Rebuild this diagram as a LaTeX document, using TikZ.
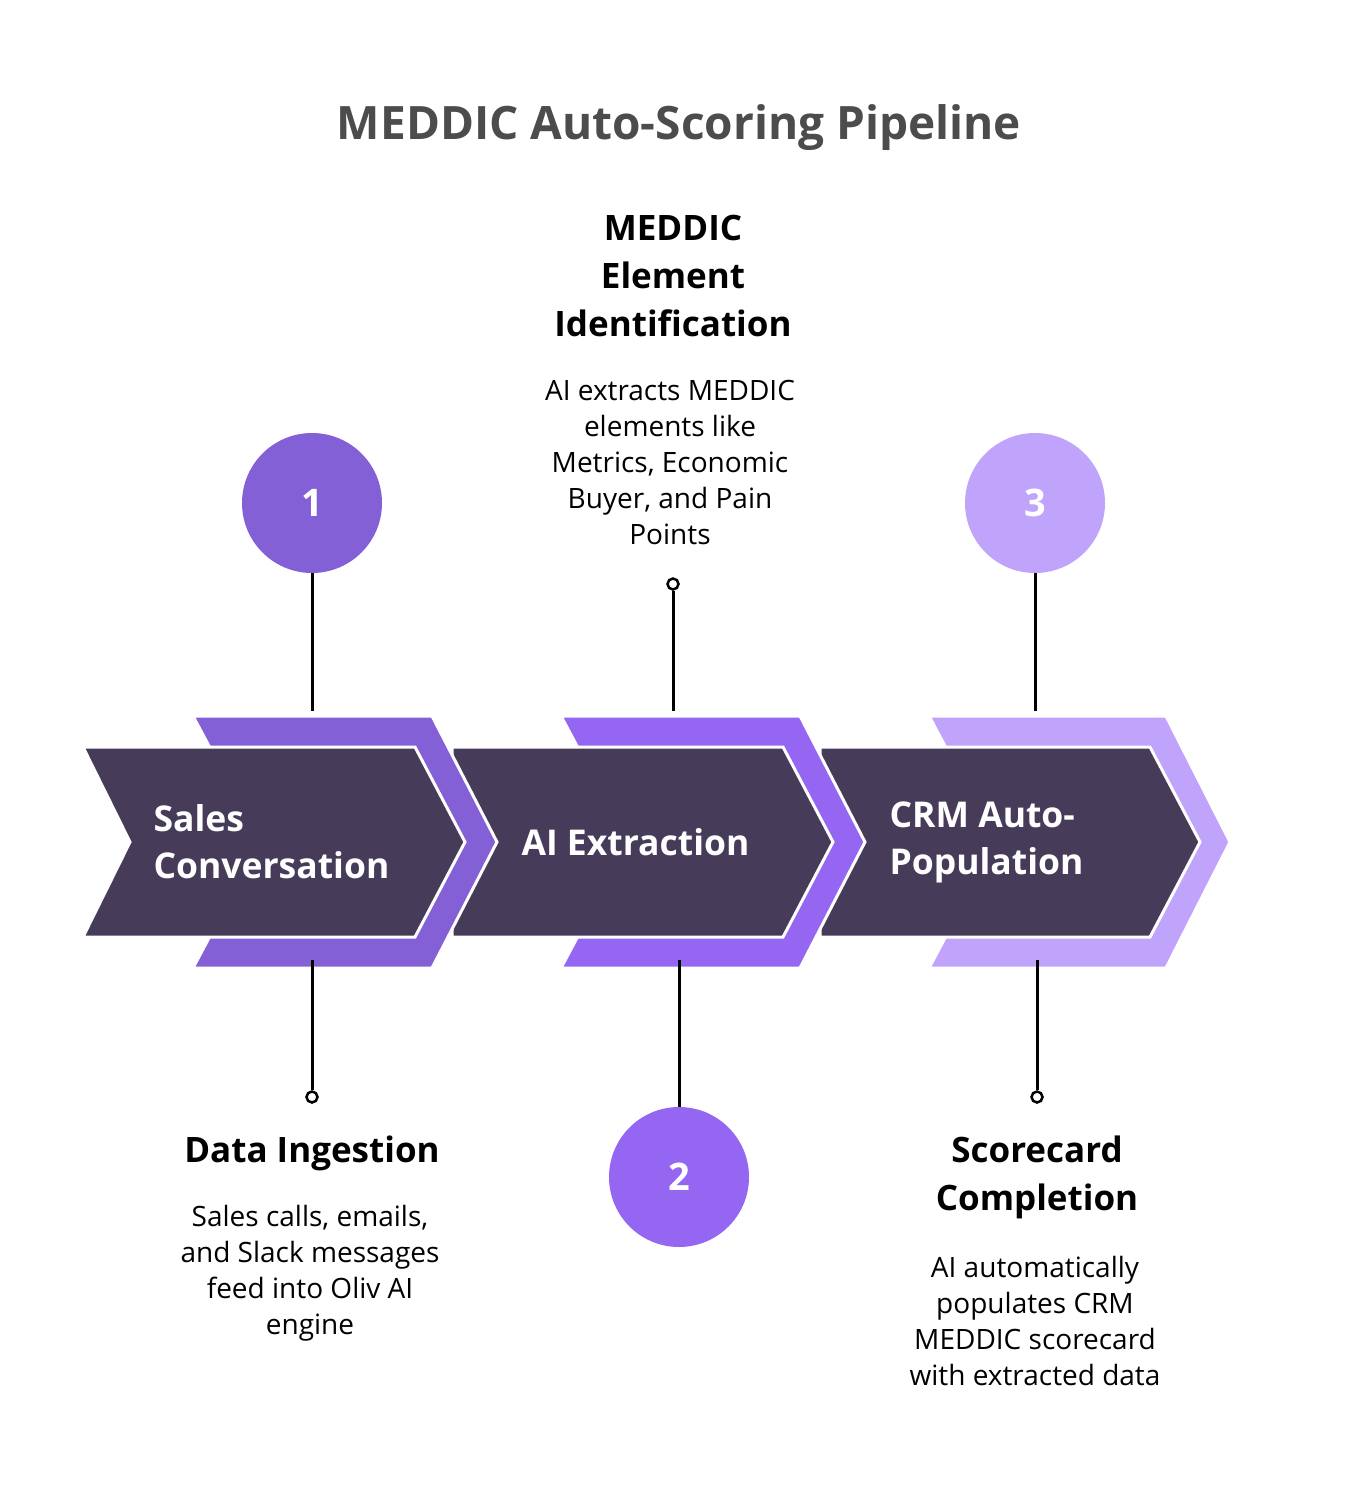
\documentclass[tikz,border=0pt]{standalone}
\usepackage{fontspec}
\setmainfont{Open Sans}
\begin{document}
\begin{tikzpicture}[x=1pt,y=-1pt,
  dark/.style={fill=dk,draw=white,line width=3pt,line join=miter},
  band/.style={draw=white,line width=3pt},
  num/.style={circle,minimum size=140pt,inner sep=0pt,text=white,font=\fontsize{38}{38}\selectfont\bfseries},
  lab/.style={text=white,align=left,font=\fontsize{35.5}{47}\selectfont\bfseries,anchor=west},
  head/.style={align=center,font=\fontsize{35}{48}\selectfont\bfseries},
  body/.style={align=center,font=\fontsize{28}{36}\selectfont},
  stem/.style={line width=3pt},
  dot/.style={circle,draw,line width=2.5pt,fill=white,minimum size=11pt,inner sep=0pt}]
\definecolor{dk}{HTML}{463C5A}
\definecolor{pa}{HTML}{8460D6}
\definecolor{pb}{HTML}{9466F2}
\definecolor{pc}{HTML}{C0A3FB}
\useasboundingbox (0,0) rectangle (1358,1490);
\node[text=black!70,font=\fontsize{46}{46}\selectfont\bfseries] (title) at (679,128) {MEDDIC Auto-Scoring Pipeline};
% chevrons
\fill[pc,band] (929,716) -- (1166,716) -- (1230,842) -- (1166,968) -- (929,968) -- (996,842) -- cycle;
\draw[dark] (820,747) -- (1150,747) -- (1200,842) -- (1150,937) -- (820,937) -- cycle;
\fill[pb,band] (561,716) -- (800,716) -- (865,842) -- (800,968) -- (561,968) -- (628,842) -- cycle;
\draw[dark] (452,747) -- (783,747) -- (833,842) -- (783,937) -- (452,937) -- cycle;
\fill[pa,band] (193,716) -- (432,716) -- (497,842) -- (432,968) -- (193,968) -- (260,842) -- cycle;
\draw[dark] (83,747) -- (415,747) -- (465,842) -- (415,937) -- (83,937) -- (130,842) -- cycle;
\node[lab] (l1) at (150,842) {Sales\\Conversation};
\node[lab] (l2) at (518,842) {AI Extraction};
\node[lab] (l3) at (886,842) {CRM Auto-\\Population};
% circles
\node[num,fill=pa] (c1) at (312,503) {1};
\node[num,fill=pb] (c2) at (679,1177) {2};
\node[num,fill=pc] (c3) at (1035,503) {3};
\coordinate (t1) at (312,711); \coordinate (t2) at (673,711); \coordinate (t3) at (1035,711);
\coordinate (b1) at (312,960); \coordinate (b2) at (679,960); \coordinate (b3) at (1037,960);
\node[dot] (d1) at (312,1097) {};
\node[dot] (d2) at (673,584) {};
\node[dot] (d3) at (1037,1097) {};
\draw[stem] (c1) -- (t1);
\draw[stem] (b1) -- (d1);
\draw[stem] (d2) -- (t2);
\draw[stem] (b2) -- (c2);
\draw[stem] (c3) -- (t3);
\draw[stem] (b3) -- (d3);
% texts
\node[head] (h2) at (673,276) {MEDDIC\\Element\\Identification};
\node[body] (x2) at (670,462) {AI extracts MEDDIC\\elements like\\Metrics, Economic\\Buyer, and Pain\\Points};
\node[head] (h1) at (312,1153) {Data Ingestion};
\node[body] (x1) at (310,1273) {Sales calls, emails,\\and Slack messages\\feed into Oliv AI\\engine};
\node[head] (h3) at (1037,1177) {Scorecard\\Completion};
\node[body] (x3) at (1035,1321) {AI automatically\\populates CRM\\MEDDIC scorecard\\with extracted data};
\end{tikzpicture}
\end{document}
